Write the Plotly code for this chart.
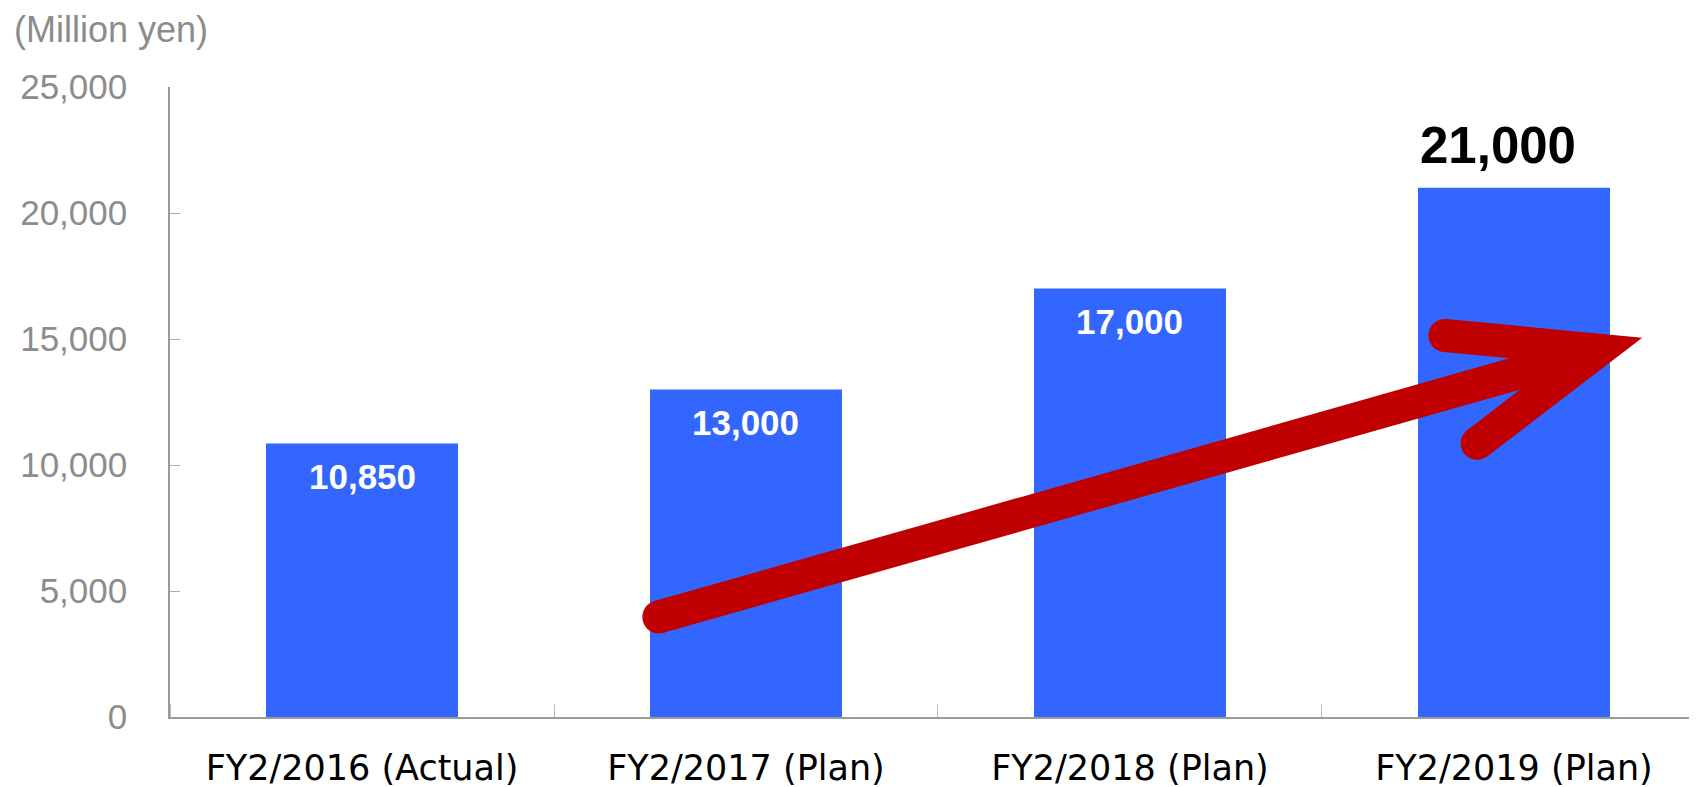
import plotly.graph_objects as go

# ---- data ----
categories = ["FY2/2016 (Actual)", "FY2/2017 (Plan)", "FY2/2018 (Plan)", "FY2/2019 (Plan)"]
values = [10850, 13000, 17000, 21000]
y_ticks = [0, 5000, 10000, 15000, 20000, 25000]
unit_label = "(Million yen)"

x_pos = list(range(len(categories)))

BAR_COLOR = "#3366FF"
ARROW_COLOR = "#C00000"
GRAY = "#8C8C8C"
AXIS_GRAY = "#9A9A9A"

# the page body has an 8px default margin; size the figure to fit the window
PAGE_OFF = 8
FIG_W, FIG_H = 1697 - PAGE_OFF, 787 - PAGE_OFF

fig = go.Figure()
fig.add_trace(go.Bar(
    x=x_pos, y=values, width=0.5,
    marker=dict(color=BAR_COLOR, line=dict(width=0)),
    hoverinfo="skip", showlegend=False,
))

# value labels
annotations = []
for i, v in enumerate(values):
    last = i == len(values) - 1
    annotations.append(dict(
        x=x_pos[i], y=v, xref="x", yref="y", text=f"{v:,}", showarrow=False,
        xanchor="center", yanchor="middle",
        yshift=42 if last else -33, xshift=-16 if last else 0,
        font=dict(family="Liberation Sans, Arial", size=51 if last else 35,
                  color="#000000" if last else "#FFFFFF", weight="bold"),
    ))

# decorative growth arrow (data units of the axes)
S = (0.773, 3970)      # tail
V = (3.221, 14560)     # head joint
A1 = (2.820, 15140)    # upper barb end
A2 = (2.904, 10860)    # lower barb end
W = 33
shapes = [
    dict(type="path", xref="x", yref="y",
         path=f"M {S[0]},{S[1]} L {V[0]},{V[1]}",
         line=dict(color=ARROW_COLOR, width=W)),
    dict(type="path", xref="x", yref="y",
         path=f"M {A1[0]},{A1[1]} L {V[0]},{V[1]} L {A2[0]},{A2[1]}",
         line=dict(color=ARROW_COLOR, width=W), fillcolor="rgba(0,0,0,0)"),
]
for (cx, cy) in (S, A1, A2):
    shapes.append(dict(type="circle", xref="x", yref="y",
                       xsizemode="pixel", ysizemode="pixel",
                       xanchor=cx, yanchor=cy,
                       x0=-W / 2, x1=W / 2, y0=-W / 2, y1=W / 2,
                       fillcolor=ARROW_COLOR, line=dict(width=0)))

fig.update_layout(
    width=FIG_W, height=FIG_H,
    margin=dict(l=170 - PAGE_OFF, r=0, t=87 - PAGE_OFF, b=70),
    paper_bgcolor="white", plot_bgcolor="white",
    title=dict(text=unit_label, x=(14 - PAGE_OFF) / FIG_W, y=1 - (29 - PAGE_OFF) / FIG_H,
               xanchor="left", yanchor="middle",
               font=dict(family="Liberation Sans, Arial", size=36, color=GRAY)),
    annotations=annotations,
    shapes=shapes,
    bargap=0.5,
)
fig.layout.title.xref = "container"
fig.layout.title.yref = "container"

fig.update_xaxes(
    range=[-0.5, 3.4766],
    tickvals=x_pos, ticktext=categories,
    ticks="", showgrid=False, zeroline=False,
    showline=True, linecolor=AXIS_GRAY, linewidth=1.5,
    tickfont=dict(family="DejaVu Sans", size=35, color="#000000"),
    ticklabelstandoff=19,
    minor=dict(tick0=0.5, dtick=1, ticks="inside", ticklen=13,
               tickcolor="#BBBBBB", tickwidth=1, showgrid=False),
)
fig.update_yaxes(
    range=[0, 25000], tickvals=y_ticks, tickformat=",",
    ticks="inside", ticklen=10, tickcolor="#AAAAAA", tickwidth=1,
    showgrid=False, zeroline=False,
    showline=True, linecolor=AXIS_GRAY, linewidth=1.5,
    tickfont=dict(family="Liberation Sans, Arial", size=35, color=GRAY),
    ticklabelstandoff=34,
)

fig.write_html("out.html")
